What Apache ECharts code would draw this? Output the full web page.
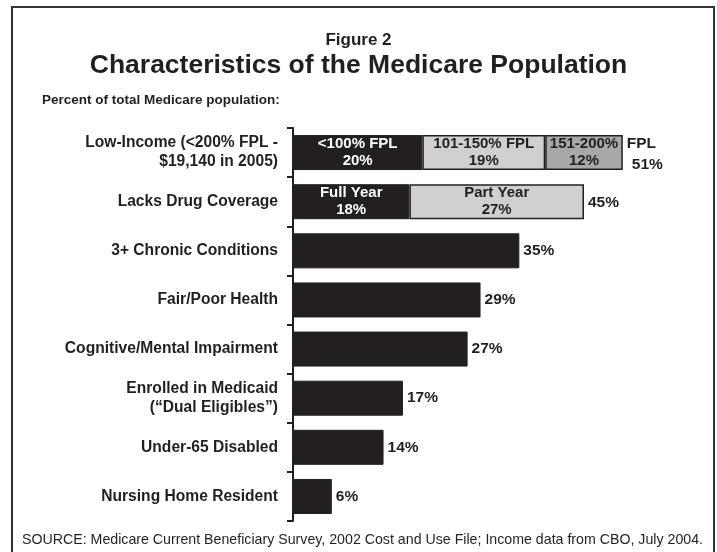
<!DOCTYPE html>
<html>
<head>
<meta charset="utf-8">
<script src="https://cdn.jsdelivr.net/npm/echarts@6/dist/echarts.min.js"></script>
<style>
  html, body { margin: 0; padding: 0; background: #ffffff; }
  #chart { width: 717px; height: 552px; }
</style>
</head>
<body>
<div id="chart"></div>
<script>
// Row labels, top to bottom
const categories = [
  'Low-Income (<200% FPL -\n$19,140 in 2005)',
  'Lacks Drug Coverage',
  '3+ Chronic Conditions',
  'Fair/Poor Health',
  'Cognitive/Mental Impairment',
  'Enrolled in Medicaid\n(\u201cDual Eligibles\u201d)',
  'Under-65 Disabled',
  'Nursing Home Resident'
];

// Percent of total Medicare population, per stacked segment
const firstSegment = [20, 18, 35, 29, 27, 17, 14, 6];
const secondSegment = [19, 27, null, null, null, null, null, null];
const thirdSegment = [12, null, null, null, null, null, null, null];

// Segment captions for the split rows
const firstNames = ['<100% FPL', 'Full Year'];
const secondNames = ['101-150% FPL', 'Part Year'];
const thirdNames = ['151-200%'];

// Row totals for the split rows
const totals = [51, 45];

const INK = '#231f20';
const LIGHT = '#d0d0d2';
const MID = '#a8a8aa';
const FONT = '"Liberation Sans", Arial, sans-serif';

const labelBase = {
  fontFamily: FONT,
  fontWeight: 'bold',
  fontSize: 15.5
};

function segmentData(values, names, textColor) {
  return values.map((v, i) => {
    if (v == null) return null;
    if (i < names.length) {
      return {
        value: v,
        label: Object.assign({}, labelBase, {
          show: true,
          position: 'inside',
          color: textColor,
          fontSize: 15,
          lineHeight: 17,
          formatter: names[i] + '\n' + v + '%'
        })
      };
    }
    return {
      value: v,
      label: Object.assign({}, labelBase, {
        show: true,
        position: 'right',
        distance: 4,
        color: INK,
        formatter: v + '%'
      })
    };
  });
}

const chart = echarts.init(document.getElementById('chart'), null, { renderer: 'canvas' });

chart.setOption({
  backgroundColor: '#ffffff',
  animation: false,
  title: [
    {
      text: 'Figure 2',
      left: 'center',
      top: 27,
      textStyle: { fontFamily: FONT, fontWeight: 'bold', fontSize: 17, color: INK }
    },
    {
      text: 'Characteristics of the Medicare Population',
      left: 'center',
      top: 47,
      textStyle: { fontFamily: FONT, fontWeight: 'bold', fontSize: 26.5, color: INK }
    },
    {
      text: 'Percent of total Medicare population:',
      left: 37,
      top: 88,
      textStyle: { fontFamily: FONT, fontWeight: 'bold', fontSize: 13.5, color: INK }
    },
    {
      text: 'SOURCE: Medicare Current Beneficiary Survey, 2002 Cost and Use File; Income data from CBO, July 2004.',
      left: 17,
      top: 528,
      textStyle: { fontFamily: FONT, fontWeight: 'normal', fontSize: 14.2, color: INK }
    }
  ],
  graphic: [
    {
      type: 'rect',
      shape: { x: 12, y: 7, width: 702, height: 570 },
      style: { fill: 'none', stroke: '#333333', lineWidth: 2 },
      silent: true,
      z: -1
    }
  ],
  grid: { left: 293, top: 128, width: 388, height: 393, containLabel: false },
  xAxis: {
    type: 'value',
    min: 0,
    max: 60,
    show: false
  },
  yAxis: {
    type: 'category',
    inverse: true,
    data: categories,
    axisLine: { show: true, lineStyle: { color: INK, width: 2 } },
    axisTick: { show: true, length: 6, lineStyle: { color: INK, width: 2 } },
    axisLabel: {
      fontFamily: FONT,
      fontWeight: 'bold',
      fontSize: 15.6,
      lineHeight: 19,
      color: INK,
      margin: 15,
      align: 'right'
    },
    splitLine: { show: false }
  },
  series: [
    {
      name: 'first',
      type: 'bar',
      stack: 'share',
      barWidth: 35,
      itemStyle: { color: INK, borderColor: INK, borderWidth: 1 },
      data: segmentData(firstSegment, firstNames, '#ffffff')
    },
    {
      name: 'second',
      type: 'bar',
      stack: 'share',
      barWidth: 35,
      itemStyle: { color: LIGHT, borderColor: INK, borderWidth: 1.5 },
      data: segmentData(secondSegment, secondNames, INK)
    },
    {
      name: 'third',
      type: 'bar',
      stack: 'share',
      barWidth: 35,
      itemStyle: { color: MID, borderColor: INK, borderWidth: 1.5 },
      data: segmentData(thirdSegment, thirdNames, INK)
    },
    {
      name: 'total',
      type: 'scatter',
      symbolSize: 0,
      silent: true,
      itemStyle: { opacity: 1 },
      data: totals.map((t, i) => ({
        value: [t, i],
        label: i === 0
          ? {
              show: true,
              position: 'right',
              distance: 4,
              offset: [0, 2],
              formatter: '{a|FPL}\n{b|' + t + '%}',
              rich: {
                a: Object.assign({}, labelBase, { color: INK, lineHeight: 21 }),
                b: Object.assign({}, labelBase, { color: INK, lineHeight: 21, padding: [0, 0, 0, 5] })
              }
            }
          : Object.assign({}, labelBase, {
              show: true,
              position: 'right',
              distance: 4,
              offset: [0, 1],
              color: INK,
              formatter: t + '%'
            })
      }))
    }
  ]
});
</script>
</body>
</html>
